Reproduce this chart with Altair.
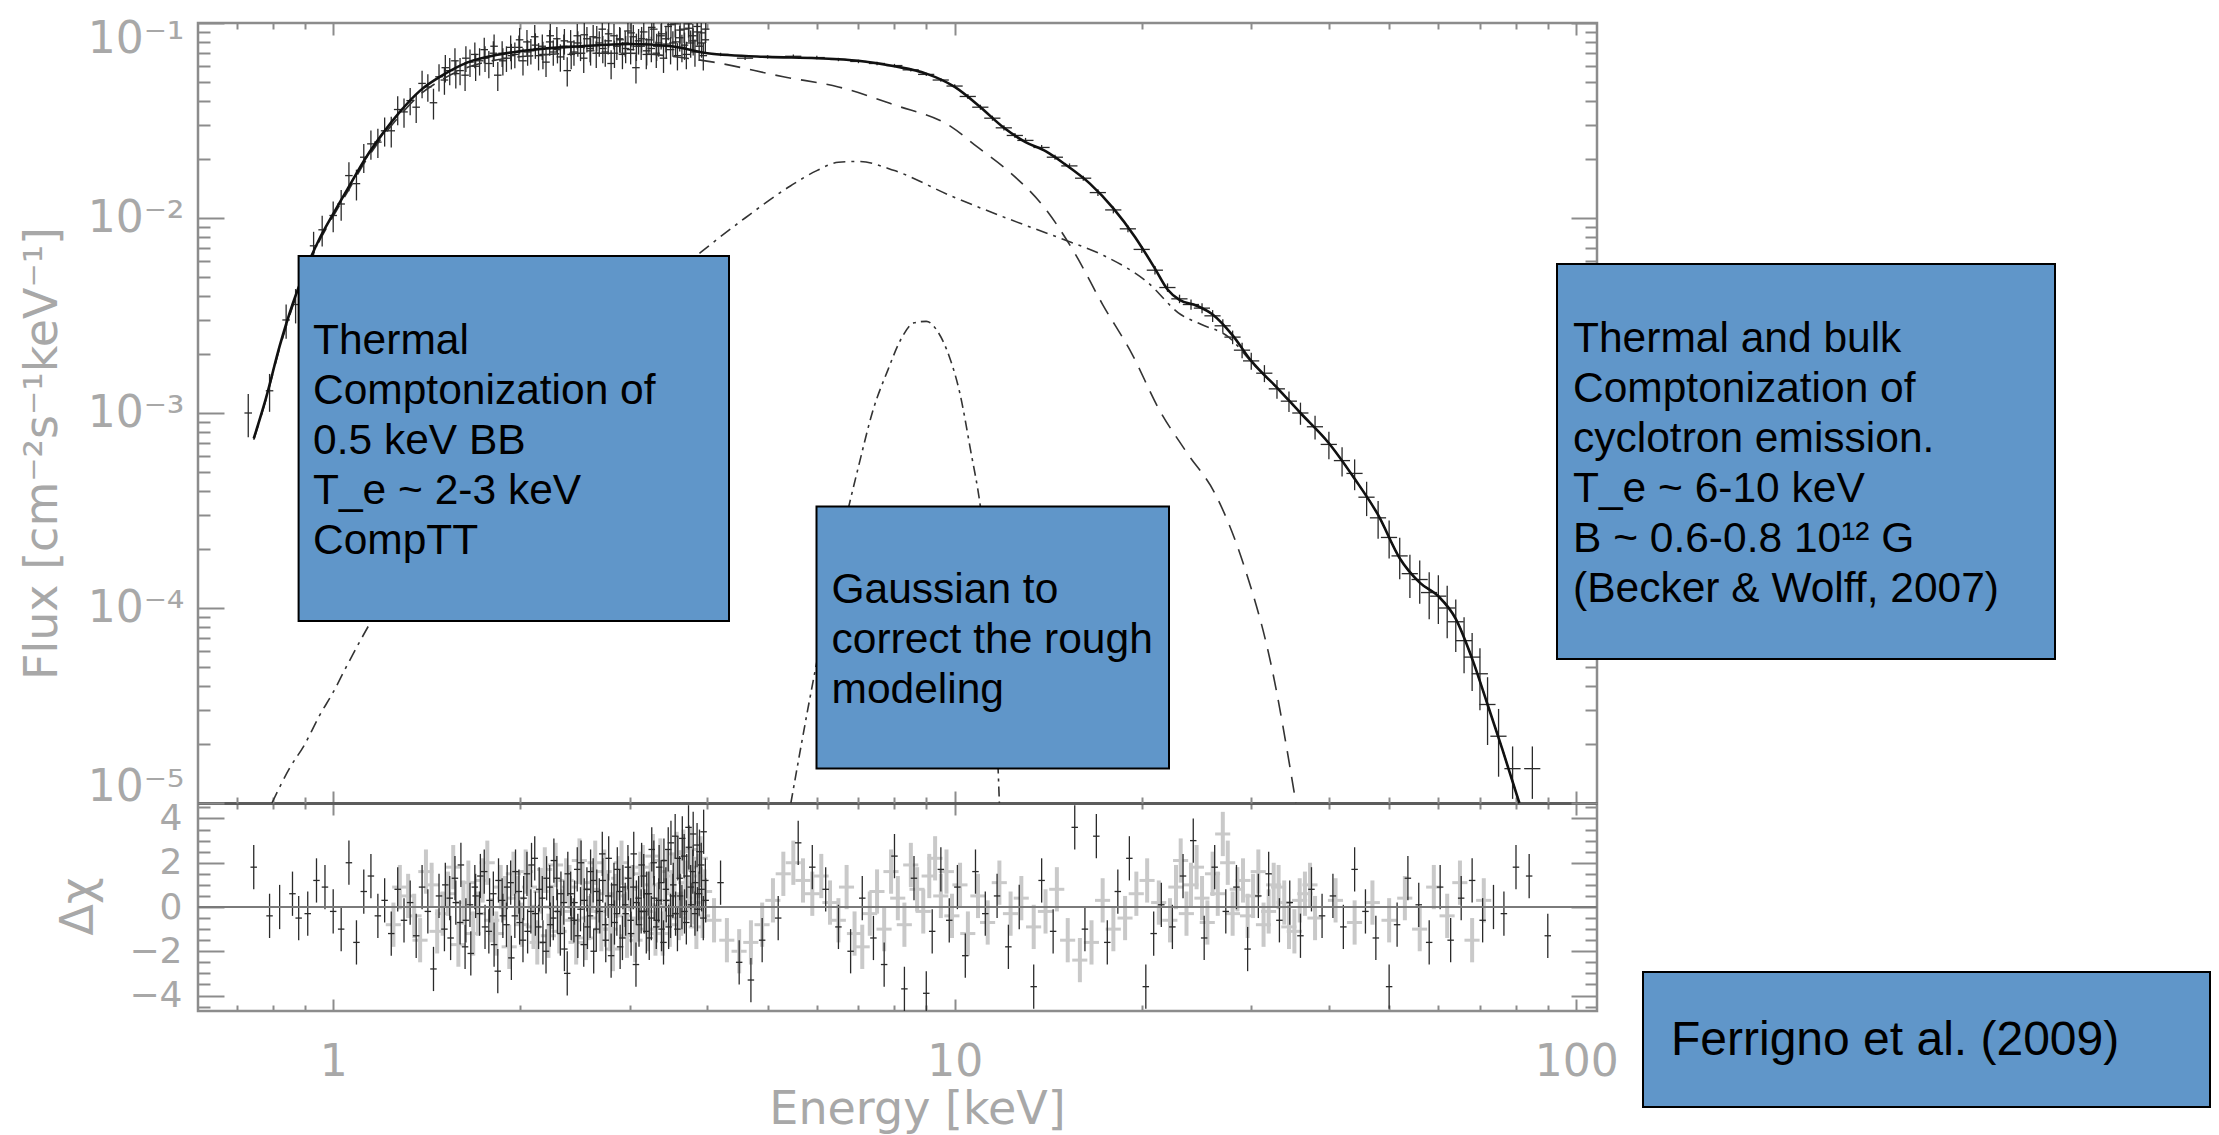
import altair as alt
import pandas as pd

# ---------------- values ----------------
# total model (solid)
TOTAL_E = [0.745, 0.78, 0.82, 0.86, 0.90, 0.95, 1.00, 1.06, 1.13, 1.20, 1.28, 1.38, 1.50, 1.65, 1.85,
           2.1, 2.5, 3.0, 3.5, 4.0, 5.0, 6.0, 7.0, 8.0, 9.0, 10.0, 11.0, 12.0, 13.0, 14.0, 15.0,
           16.5, 18.0, 19.5, 21.0, 22.0, 23.0, 24.5, 26.0, 28.0, 30.0, 33.0, 36.0, 40.0, 44.0, 48.0,
           52.0, 56.0, 60.0, 64.0, 68.0, 72.0, 76.0, 81.0]
TOTAL_F = [7.4e-4, 1.2e-3, 2.2e-3, 3.6e-3, 5.3e-3, 7.8e-3, 1.05e-2, 1.45e-2, 2.05e-2, 2.7e-2, 3.5e-2,
           4.5e-2, 5.4e-2, 6.3e-2, 6.9e-2, 7.3e-2, 7.6e-2, 7.8e-2, 7.6e-2, 7.0e-2, 6.7e-2, 6.6e-2,
           6.4e-2, 6.0e-2, 5.5e-2, 4.7e-2, 3.7e-2, 2.9e-2, 2.45e-2, 2.2e-2, 1.9e-2, 1.5e-2, 1.12e-2,
           8.0e-3, 5.5e-3, 4.3e-3, 3.8e-3, 3.55e-3, 3.2e-3, 2.5e-3, 1.85e-3, 1.35e-3, 1.0e-3, 7.0e-4,
           4.6e-4, 3.0e-4, 1.8e-4, 1.35e-4, 1.15e-4, 8.8e-5, 5.5e-5, 3.2e-5, 1.9e-5, 1.0e-5]
# CompTT component (dashed)
COMPTT_E = [0.745, 0.78, 0.82, 0.86, 0.90, 0.95, 1.00, 1.06, 1.13, 1.20, 1.28, 1.38, 1.50, 1.65, 1.85,
            2.1, 2.5, 3.0, 3.5, 4.09, 5.3, 6.5, 8.0, 9.85, 10.9, 12.1, 14.1, 15.6, 17.3, 19.3, 21.3,
            23.6, 26.3, 29.2, 32.3, 35.4]
COMPTT_F = [7.3e-4, 1.18e-3, 2.15e-3, 3.5e-3, 5.2e-3, 7.6e-3, 1.02e-2, 1.4e-2, 1.98e-2, 2.6e-2, 3.35e-2,
            4.3e-2, 5.15e-2, 5.95e-2, 6.5e-2, 6.8e-2, 7.0e-2, 7.0e-2, 6.75e-2, 6.3e-2, 5.3e-2, 4.7e-2,
            3.8e-2, 2.95e-2, 2.3e-2, 1.78e-2, 1.08e-2, 6.6e-3, 3.6e-3, 2.0e-3, 1.05e-3, 6.3e-4,
            3.8e-4, 1.65e-4, 5.1e-5, 1.0e-5]
# bulk + thermal Comptonization of cyclotron emission (dash-dot)
BW_E = [0.797, 0.85, 0.90, 0.95, 1.00, 1.05, 1.10, 1.15, 1.3, 1.6, 2.0, 2.5, 3.0, 3.5, 3.91, 4.6, 5.44,
        6.0, 6.5, 7.0, 8.0, 9.85, 12.1, 14.9, 17.4, 20.4, 23.1, 24.9, 27.6, 30.0, 33.0, 36.0, 40.0,
        44.0, 48.0, 52.0, 56.0, 60.0, 64.0, 68.0, 72.0, 76.0, 81.0]
BW_F = [1.0e-5, 1.5e-5, 2.0e-5, 2.8e-5, 3.7e-5, 5.0e-5, 6.6e-5, 8.5e-5, 1.5e-4, 3.6e-4, 8.5e-4, 1.8e-3,
        3.2e-3, 5.0e-3, 6.7e-3, 1.0e-2, 1.46e-2, 1.75e-2, 1.93e-2, 1.95e-2, 1.75e-2, 1.3e-2, 1.0e-2,
        7.8e-3, 6.4e-3, 4.7e-3, 3.2e-3, 2.85e-3, 2.45e-3, 1.83e-3, 1.34e-3, 1.0e-3, 7.0e-4, 4.6e-4,
        3.0e-4, 1.8e-4, 1.35e-4, 1.15e-4, 8.8e-5, 5.5e-5, 3.2e-5, 1.9e-5, 1.0e-5]
# Gaussian
GAUSS_E = [5.45, 5.8, 6.2, 6.6, 7.0, 7.4, 7.8, 8.2, 8.6, 9.0, 9.4, 9.8, 10.2, 10.6, 11.0, 11.4, 11.6, 11.8]
GAUSS_F = [1.0e-5, 3.0e-5, 9.0e-5, 2.4e-4, 5.3e-4, 1.05e-3, 1.65e-3, 2.4e-3, 2.9e-3, 2.95e-3, 2.6e-3,
           1.95e-3, 1.25e-3, 6.5e-4, 3.3e-4, 1.2e-4, 4.0e-5, 1.0e-5]

# spectrum points (energy, flux, relative error)
SPEC_LOW = [(0.73, 1.0e-3, 0.25), (0.79, 1.3e-3, 0.22), (0.84, 3.0e-3, 0.2), (0.87, 3.6e-3, 0.2),
            (0.90, 5.1e-3, 0.2), (0.93, 7.2e-3, 0.18), (0.96, 8.7e-3, 0.18), (1.00, 1.03e-2, 0.18),
            (1.03, 1.18e-2, 0.18), (1.06, 1.65e-2, 0.17), (1.09, 1.5e-2, 0.18), (1.12, 2.05e-2, 0.17),
            (1.15, 2.4e-2, 0.17), (1.18, 2.45e-2, 0.17), (1.21, 2.8e-2, 0.17), (1.24, 2.8e-2, 0.18),
            (1.27, 3.6e-2, 0.17), (1.30, 3.5e-2, 0.17), (1.33, 4.0e-2, 0.16), (1.36, 3.7e-2, 0.17),
            (1.39, 4.9e-2, 0.16), (1.42, 4.7e-2, 0.16), (1.45, 3.9e-2, 0.18), (1.48, 5.3e-2, 0.16),
            (1.51, 5.1e-2, 0.16), (1.54, 5.7e-2, 0.16), (1.57, 6.4e-2, 0.16), (1.60, 5.7e-2, 0.16),
            (1.63, 5.4e-2, 0.17), (1.66, 6.3e-2, 0.16), (1.69, 6.9e-2, 0.15), (1.72, 6.4e-2, 0.16),
            (1.75, 7.3e-2, 0.15), (1.78, 6.2e-2, 0.16), (1.81, 7.0e-2, 0.15), (1.84, 5.4e-2, 0.17),
            (1.87, 7.0e-2, 0.15), (1.90, 6.6e-2, 0.15), (1.93, 7.5e-2, 0.15), (1.96, 6.9e-2, 0.15),
            (1.99, 7.5e-2, 0.15), (2.02, 6.4e-2, 0.16), (2.05, 8.0e-2, 0.15), (2.08, 7.2e-2, 0.15),
            (2.11, 8.5e-2, 0.15), (2.14, 6.8e-2, 0.16), (2.17, 7.6e-2, 0.15), (2.20, 6.3e-2, 0.16),
            (2.23, 8.0e-2, 0.15), (2.26, 7.1e-2, 0.15), (2.29, 8.3e-2, 0.15), (2.32, 6.7e-2, 0.16),
            (2.35, 7.6e-2, 0.15), (2.38, 5.7e-2, 0.17), (2.41, 8.0e-2, 0.15), (2.44, 7.1e-2, 0.15),
            (2.47, 8.6e-2, 0.15), (2.50, 7.5e-2, 0.15), (2.53, 6.6e-2, 0.16), (2.56, 8.3e-2, 0.15),
            (2.59, 7.4e-2, 0.15), (2.62, 8.5e-2, 0.15), (2.65, 7.0e-2, 0.16), (2.68, 7.9e-2, 0.15),
            (2.71, 9.3e-2, 0.15), (2.74, 7.1e-2, 0.16), (2.77, 8.1e-2, 0.15), (2.80, 6.2e-2, 0.17),
            (2.83, 8.6e-2, 0.15), (2.86, 7.6e-2, 0.15), (2.89, 8.3e-2, 0.15), (2.92, 6.9e-2, 0.16),
            (2.95, 7.9e-2, 0.15), (2.98, 9.1e-2, 0.15), (3.01, 7.3e-2, 0.16), (3.04, 8.5e-2, 0.15),
            (3.07, 5.9e-2, 0.17), (3.10, 8.1e-2, 0.15), (3.13, 7.6e-2, 0.15), (3.16, 9.0e-2, 0.15),
            (3.19, 6.9e-2, 0.16), (3.22, 8.2e-2, 0.15), (3.25, 7.4e-2, 0.15), (3.28, 9.3e-2, 0.15),
            (3.31, 7.0e-2, 0.16), (3.34, 7.9e-2, 0.15), (3.37, 8.6e-2, 0.15), (3.40, 6.6e-2, 0.16),
            (3.43, 8.3e-2, 0.15), (3.46, 9.6e-2, 0.15), (3.49, 7.3e-2, 0.16), (3.52, 7.9e-2, 0.15),
            (3.55, 9.9e-2, 0.15), (3.58, 6.8e-2, 0.16), (3.61, 8.4e-2, 0.15), (3.64, 7.5e-2, 0.16),
            (3.67, 9.3e-2, 0.15), (3.70, 6.9e-2, 0.16), (3.73, 9.9e-2, 0.15), (3.76, 7.9e-2, 0.16),
            (3.79, 8.6e-2, 0.15), (3.82, 7.1e-2, 0.16), (3.85, 9.6e-2, 0.15), (3.88, 7.6e-2, 0.16),
            (3.91, 8.9e-2, 0.15), (3.94, 6.8e-2, 0.16), (3.97, 8.2e-2, 0.15)]
SPEC_LOW_B = [(1.515, 5.9e-2, 0.16), (1.575, 5.5e-2, 0.16), (1.635, 6.6e-2, 0.15), (1.695, 6.0e-2, 0.16),
              (1.755, 6.6e-2, 0.15), (1.815, 7.6e-2, 0.15), (1.875, 6.4e-2, 0.16), (1.935, 6.8e-2, 0.15),
              (1.995, 8.2e-2, 0.15), (2.055, 7.1e-2, 0.15), (2.115, 7.7e-2, 0.15), (2.175, 6.9e-2, 0.16),
              (2.235, 8.6e-2, 0.15), (2.295, 7.3e-2, 0.15), (2.355, 8.1e-2, 0.15), (2.415, 6.9e-2, 0.16),
              (2.475, 7.9e-2, 0.15), (2.535, 8.7e-2, 0.15), (2.595, 7.2e-2, 0.16), (2.655, 8.4e-2, 0.15),
              (2.715, 7.4e-2, 0.16), (2.775, 8.8e-2, 0.15), (2.835, 7.0e-2, 0.16), (2.895, 8.2e-2, 0.15),
              (2.955, 7.4e-2, 0.16), (3.015, 8.9e-2, 0.15), (3.075, 7.6e-2, 0.16), (3.135, 8.3e-2, 0.15),
              (3.195, 7.2e-2, 0.16), (3.255, 9.5e-2, 0.15), (3.315, 7.6e-2, 0.16), (3.375, 8.8e-2, 0.15),
              (3.435, 7.8e-2, 0.16), (3.495, 9.8e-2, 0.15), (3.555, 8.0e-2, 0.16), (3.615, 9.2e-2, 0.15),
              (3.675, 7.7e-2, 0.16), (3.735, 9.4e-2, 0.15), (3.795, 8.1e-2, 0.16), (3.855, 9.0e-2, 0.15),
              (3.915, 7.9e-2, 0.16), (3.975, 9.3e-2, 0.15)]
SPEC_HIGH = [(4.2, 6.9e-2, 0.02), (4.6, 6.6e-2, 0.02), (5.0, 6.7e-2, 0.02), (5.5, 6.75e-2, 0.02),
             (6.0, 6.65e-2, 0.02), (6.5, 6.5e-2, 0.02), (7.0, 6.35e-2, 0.02), (7.5, 6.2e-2, 0.02),
             (8.0, 6.05e-2, 0.02), (8.5, 5.75e-2, 0.02), (9.0, 5.45e-2, 0.02), (9.5, 5.1e-2, 0.02),
             (10.0, 4.75e-2, 0.02), (10.5, 4.2e-2, 0.03), (11.0, 3.7e-2, 0.03), (11.5, 3.25e-2, 0.03),
             (12.0, 2.9e-2, 0.03), (12.5, 2.65e-2, 0.03), (13.0, 2.5e-2, 0.03), (13.8, 2.3e-2, 0.03),
             (14.5, 2.05e-2, 0.03), (15.3, 1.85e-2, 0.03), (16.1, 1.6e-2, 0.03), (17.0, 1.35e-2, 0.04),
             (18.0, 1.1e-2, 0.04), (19.0, 8.8e-3, 0.04), (20.0, 6.9e-3, 0.04), (21.0, 5.4e-3, 0.05),
             (22.0, 4.4e-3, 0.05), (23.0, 3.85e-3, 0.05), (24.0, 3.6e-3, 0.06), (25.0, 3.45e-3, 0.06),
             (26.0, 3.15e-3, 0.07), (27.0, 2.8e-3, 0.08), (28.0, 2.45e-3, 0.08), (29.0, 2.1e-3, 0.09),
             (30.0, 1.85e-3, 0.1), (31.5, 1.6e-3, 0.1), (33.0, 1.33e-3, 0.11), (34.5, 1.15e-3, 0.12),
             (36.0, 1.0e-3, 0.13), (38.0, 8.5e-4, 0.14), (40.0, 6.9e-4, 0.16), (42.0, 5.7e-4, 0.17),
             (44.0, 4.9e-4, 0.18), (46.0, 3.7e-4, 0.2), (48.0, 2.9e-4, 0.22), (50.0, 2.3e-4, 0.22),
             (52.0, 1.85e-4, 0.24), (54.0, 1.5e-4, 0.25), (56.0, 1.4e-4, 0.25), (58.0, 1.2e-4, 0.27),
             (60.0, 1.15e-4, 0.28), (62.0, 1.0e-4, 0.3), (64.0, 8.5e-5, 0.3), (66.0, 6.8e-5, 0.32),
             (68.0, 5.6e-5, 0.33), (70.0, 4.6e-5, 0.35), (72.0, 3.2e-5, 0.38), (75.0, 2.2e-5, 0.38),
             (79.0, 1.5e-5, 0.3), (85.0, 1.5e-5, 0.3)]

# residuals (energy, delta chi); error bars are +/-1 by definition
RES_BLACK = [(0.745, 1.8), (0.79, -0.4), (0.82, 0.0), (0.86, 0.6), (0.88, -0.5), (0.91, -0.3), (0.94, 1.2),
             (0.97, 0.9), (1.00, -0.2), (1.03, -1.0), (1.06, 2.0), (1.09, -1.6), (1.12, 0.7), (1.15, 1.4),
             (1.18, -0.4), (1.21, 0.3), (1.24, -1.2), (1.27, 0.8), (1.30, -0.6), (1.33, 0.2), (1.36, -1.3),
             (1.39, 0.9), (1.42, -0.2), (1.45, -2.8), (1.48, 0.5), (1.51, -1.0), (1.54, 0.4), (1.57, 1.3),
             (1.60, -0.7), (1.63, -1.8), (1.66, 0.1), (1.69, 0.9), (1.72, -0.3), (1.75, 1.6), (1.78, -1.1),
             (1.81, 0.6), (1.84, -2.9), (1.87, 0.3), (1.90, -0.8), (1.93, 1.1), (1.96, -0.4), (1.99, 0.7),
             (2.02, -1.5), (2.05, 1.5), (2.08, -0.2), (2.11, 2.2), (2.14, -0.9), (2.17, 0.4), (2.20, -2.0),
             (2.23, 0.9), (2.26, -0.5), (2.29, 1.3), (2.32, -1.2), (2.35, 0.2), (2.38, -3.0), (2.41, 0.6),
             (2.44, -0.6), (2.47, 1.7), (2.50, -0.1), (2.53, -1.7), (2.56, 0.8), (2.59, -0.4), (2.62, 1.2),
             (2.65, -1.0), (2.68, 0.3), (2.71, 2.4), (2.74, -0.8), (2.77, 0.5), (2.80, -2.2), (2.83, 1.0),
             (2.86, -0.3), (2.89, 0.7), (2.92, -1.4), (2.95, 0.1), (2.98, 1.8), (3.01, -0.6), (3.04, 0.9),
             (3.07, -2.6), (3.10, 0.4), (3.13, -0.2), (3.16, 1.4), (3.19, -1.1), (3.22, 0.6), (3.25, -0.5),
             (3.28, 2.0), (3.31, -0.9), (3.34, 0.3), (3.37, 1.1), (3.40, -1.6), (3.43, 0.8), (3.46, 2.6),
             (3.49, -0.4), (3.52, 0.5), (3.55, 3.2), (3.58, -1.0), (3.61, 1.3), (3.64, 0.0), (3.67, 2.3),
             (3.70, -0.7), (3.73, 3.6), (3.76, 0.9), (3.79, 1.6), (3.82, -0.3), (3.85, 2.8), (3.88, 0.6),
             (3.91, 1.9), (3.94, -0.5), (3.97, 1.2),
             (4.2, 1.1), (4.5, -2.5), (4.7, -3.3), (4.9, -1.5), (5.2, -0.5), (5.6, 2.9), (5.9, 1.8),
             (6.2, 0.8), (6.5, -0.9), (6.8, -2.0), (7.1, 0.4), (7.4, -1.4), (7.7, -2.6), (8.0, 2.3),
             (8.3, -3.7), (8.6, 1.3), (9.0, -3.9), (9.2, -1.1), (9.5, 1.7), (9.8, -0.6), (10.1, 0.9),
             (10.4, -2.2), (10.8, 1.6), (11.2, -0.3), (11.7, 0.5), (12.2, -1.8), (12.7, 0.0), (13.4, -3.6),
             (13.8, 1.2), (14.4, -1.1), (15.6, 3.6), (16.2, -1.0), (16.9, 3.2), (17.6, -1.6), (18.3, 0.7),
             (19.1, 2.2), (20.3, -3.6), (20.9, -1.2), (21.5, 0.1), (22.4, -0.9), (23.3, 1.4), (24.2, 3.0),
             (25.2, -1.4), (26.2, 1.8), (27.3, -0.2), (28.4, 0.9), (29.6, -1.9), (30.8, 0.5), (32.0, 1.5),
             (33.3, -0.6), (34.6, 0.2), (36.0, -1.3), (37.5, 0.8), (39.0, -0.4), (40.6, 0.5), (42.2, -0.9),
             (44.0, 1.7), (45.8, -0.2), (47.6, -1.4), (50.0, -3.6), (51.5, -0.8), (53.6, 1.3), (55.8, 0.1),
             (58.0, -1.6), (60.4, 0.9), (62.8, -1.5), (65.3, 0.4), (68.0, 1.2), (70.7, -0.6), (73.6, 0.0),
             (76.5, -0.3), (80.0, 1.8), (84.0, 1.4), (90.0, -1.3)]
RES_BLACK_B = [(1.515, 1.0), (1.545, -1.4), (1.575, 0.2), (1.605, 1.9), (1.635, -0.6), (1.665, -2.1),
               (1.695, 0.5), (1.725, 1.4), (1.755, -0.9), (1.785, 0.3), (1.815, -1.7), (1.845, 1.2),
               (1.875, -0.4), (1.905, 0.9), (1.935, -2.3), (1.965, 1.6), (1.995, -0.7), (2.025, 0.4),
               (2.055, -1.1), (2.085, 1.9), (2.115, -0.3), (2.145, 0.8), (2.175, -1.6), (2.205, 1.3),
               (2.235, -0.8), (2.265, 2.1), (2.295, -0.2), (2.325, 0.6), (2.355, -1.9), (2.385, 1.5),
               (2.415, -0.5), (2.445, 0.2), (2.475, -1.3), (2.505, 2.0), (2.535, 0.3), (2.565, -0.9),
               (2.595, 1.6), (2.625, -2.0), (2.655, 0.7), (2.685, -0.2), (2.715, 1.2), (2.745, -1.5),
               (2.775, 2.2), (2.805, 0.1), (2.835, -0.7), (2.865, 1.7), (2.895, -1.8), (2.925, 0.9),
               (2.955, -0.3), (2.985, 1.3), (3.015, -1.2), (3.045, 2.4), (3.075, 0.2), (3.105, -0.8),
               (3.135, 1.9), (3.165, -0.2), (3.195, 0.6), (3.225, -1.4), (3.255, 2.6), (3.285, 0.4),
               (3.315, -0.6), (3.345, 1.8), (3.375, -1.0), (3.405, 2.1), (3.435, 0.3), (3.465, -0.9),
               (3.495, 2.9), (3.525, 1.0), (3.555, -0.3), (3.585, 2.2), (3.615, 0.5), (3.645, 3.1),
               (3.675, -0.2), (3.705, 1.4), (3.735, 2.7), (3.765, 0.1), (3.795, 3.3), (3.825, 1.1),
               (3.855, -0.1), (3.885, 2.5), (3.915, 0.8), (3.945, 3.4), (3.975, 0.3)]
RES_GRAY = [(1.25, -0.8), (1.32, 0.5), (1.38, -1.5), (1.44, 1.0), (1.50, -0.3), (1.56, 1.8), (1.62, 0.2),
            (1.68, -1.2), (1.74, 1.2), (1.80, -0.6), (1.86, 0.9), (1.92, -1.8), (1.98, 0.4), (2.04, 1.6),
            (2.10, -0.9), (2.16, 0.7), (2.22, -1.3), (2.28, 1.9), (2.34, -0.2), (2.40, 0.9), (2.46, -1.6),
            (2.52, 1.1), (2.58, -0.5), (2.64, 2.0), (2.70, -1.0), (2.76, 0.6), (2.82, -1.9), (2.88, 1.3),
            (2.94, -0.4), (3.00, 0.8), (3.06, -1.5), (3.12, 1.5), (3.18, -0.2), (3.24, 1.0), (3.30, -1.2),
            (3.36, 2.1), (3.42, 0.3), (3.48, -0.8), (3.54, 1.4), (3.60, -0.5), (3.66, 2.5), (3.72, 0.4),
            (3.78, 1.8), (3.84, -0.9), (3.90, 2.2), (3.96, 0.7),
            (4.1, -0.6), (4.3, -1.5), (4.5, -2.0), (4.7, -1.6), (4.9, -0.8), (5.1, 0.3), (5.3, 1.5),
            (5.5, 2.0), (5.7, 1.2), (5.9, 0.6), (6.1, 1.4), (6.3, 0.2), (6.5, -0.6), (6.7, 0.9),
            (6.9, -1.2), (7.1, -1.8), (7.3, -0.3), (7.5, 0.7), (7.7, -1.0), (7.9, 1.6), (8.1, 0.4),
            (8.3, -0.8), (8.5, 1.9), (8.7, 0.8), (8.9, -0.2), (9.1, 1.4), (9.3, 2.2), (9.5, 0.5),
            (9.7, 1.6), (9.9, -0.4), (10.2, 1.0), (10.5, -1.2), (10.9, 0.5), (11.3, -0.7), (11.8, 1.1),
            (12.3, -0.3), (12.8, 0.4), (13.4, -0.9), (14.0, -0.2), (14.6, 0.8), (15.2, -1.5), (15.9, -2.4),
            (16.6, -1.6), (17.3, 0.3), (18.0, -1.0), (18.8, -0.5), (19.6, 0.6), (20.4, 1.2), (21.3, 0.2),
            (22.2, -0.6), (23.1, 2.1), (24.0, 1.0), (25.0, 0.4), (26.0, 1.5), (27.0, 3.3), (28.0, -0.3),
            (29.1, 1.2), (30.2, 0.5), (31.4, -0.8), (32.6, 1.0), (33.9, 0.2), (35.2, -1.1), (36.6, 0.6),
            (38.0, -0.5), (41.0, 0.3), (44.0, -0.7), (47.0, 0.2), (50.0, -0.6), (53.0, 0.4), (56.0, -1.0),
            (59.0, 0.9), (62.0, -0.4), (65.0, 1.1), (68.0, -1.5), (71.0, 0.3)]
RES_GRAY_B = [(1.28, 0.9), (1.35, -0.4), (1.41, 1.6), (1.47, -1.1), (1.53, 0.6), (1.59, -1.7), (1.65, 1.1),
              (1.71, -0.3), (1.77, 2.0), (1.83, -1.2), (1.89, 0.4), (1.95, 1.5), (2.01, -0.8), (2.07, 0.9),
              (2.13, -1.6), (2.19, 1.7), (2.25, 0.0), (2.31, -1.1), (2.37, 1.2), (2.43, -0.6), (2.49, 2.1),
              (2.55, -1.4), (2.61, 0.8), (2.67, -0.2), (2.73, 1.6), (2.79, -1.0), (2.85, 0.5), (2.91, 2.0),
              (2.97, -1.3), (3.03, 0.9), (3.09, -0.5), (3.15, 1.8), (3.21, -1.0), (3.27, 2.3), (3.33, 0.1),
              (3.39, -1.2), (3.45, 1.6), (3.51, 0.6), (3.57, 2.4), (3.63, -0.3), (3.69, 1.1), (3.75, 2.6),
              (3.81, 0.2), (3.87, 1.4), (3.93, -0.4),
              (22.7, 0.9), (23.6, -0.3), (24.5, 1.8), (25.5, -0.7), (26.5, 0.6), (27.5, 2.0), (28.5, 0.8),
              (29.6, -0.4), (30.8, 1.6), (32.0, -0.2), (33.2, 0.9), (34.5, -0.9), (35.9, 0.3), (37.3, 1.0)]
RES_ERR = 1.0

# axis ticks and labels
X_MAJOR = [1, 10, 100]
X_LABELS = ["1", "10", "100"]
X_MINOR = [0.7, 0.8, 0.9, 2, 3, 4, 5, 6, 7, 8, 9, 20, 30, 40, 50, 60, 70, 80, 90]
F_MAJOR = [1e-5, 1e-4, 1e-3, 1e-2, 1e-1]
F_LABELS = ["10⁻⁵", "10⁻⁴", "10⁻³", "10⁻²", "10⁻¹"]
F_MINOR = [m * d for d in [1e-5, 1e-4, 1e-3, 1e-2] for m in range(2, 10)]
R_MAJOR = [-4, -2, 0, 2, 4]
R_LABELS = ["−4", "−2", "0", "2", "4"]
R_MINOR = [-4.5, -3.5, -3, -2.5, -1.5, -1, -0.5, 0.5, 1, 1.5, 2.5, 3, 3.5, 4.5]

BOX_TEXTS = [
    "Thermal\nComptonization of\n0.5 keV BB\nT_e ~ 2-3 keV\nCompTT",
    "Gaussian to\ncorrect the rough\nmodeling",
    "Thermal and bulk\nComptonization of\ncyclotron emission.\nT_e ~ 6-10 keV\nB ~ 0.6-0.8 10¹² G\n(Becker & Wolff, 2007)",
    "Ferrigno et al. (2009)",
]

# ---------------- layout / style ----------------
W, H, HT = 1399, 988, 780
HB = H - HT
LABEL_C = "#a8a8a8"
TICK_C = "#8c8c8c"
BOX_FILL = "#6096c9"

XS = alt.Scale(type="log", domain=[0.606, 108], nice=False)
YT = alt.Scale(type="log", domain=[1e-5, 0.1], range=[HT, 0], nice=False)
YB = alt.Scale(type="linear", domain=[-4.7, 4.7], range=[H, HT], nice=False, zero=False)


def label_expr(values, labels):
    expr = "'" + labels[-1] + "'"
    for v, lab in zip(values[-2::-1], labels[-2::-1]):
        expr = f"abs(datum.value - ({v!r})) < {abs(v) * 1e-3 + 1e-12!r} ? '{lab}' : " + expr
    return expr


def tick_axis(orient, offset, values, size, **kw):
    opts = dict(orient=orient, offset=offset, values=values, labels=False, ticks=True,
                tickSize=size, tickColor=TICK_C, tickWidth=2, domain=False, grid=False, title=None)
    opts.update(kw)
    return alt.Axis(**opts)


AX_X_LABELS = alt.Axis(orient="bottom", values=X_MAJOR, labelExpr=label_expr(X_MAJOR, X_LABELS),
                       ticks=False, tickSize=0, domain=False, labelPadding=29,
                       title="Energy [keV]", titleY=112, titleX=719, titleAlign="center",
                       titleBaseline="alphabetic")
AX_F_LABELS = alt.Axis(orient="left", values=F_MAJOR, labelExpr=label_expr(F_MAJOR, F_LABELS),
                       ticks=False, tickSize=0, domain=False, labelPadding=14,
                       labelFlush=True, labelFlushOffset=6,
                       title="Flux [cm⁻²s⁻¹keV⁻¹]", titleAngle=270, titleX=-156, titleY=430,
                       titleAlign="center", titleBaseline="middle")
AX_R_LABELS = alt.Axis(orient="left", values=R_MAJOR, labelExpr=label_expr(R_MAJOR, R_LABELS),
                       ticks=False, tickSize=0, domain=False, labelPadding=16, labelFontSize=36,
                       title="Δχ", titleAngle=270, titleX=-120, titleY=883,
                       titleAlign="center", titleBaseline="middle")

# ---------------- tables ----------------
spec = pd.DataFrame(SPEC_LOW + SPEC_LOW_B + SPEC_HIGH, columns=["E", "F", "err"])
spec["F_lo"] = spec["F"] * (1 - spec["err"])
spec["F_hi"] = spec["F"] * (1 + spec["err"])
spec["xw"] = [0.014] * (len(SPEC_LOW) + len(SPEC_LOW_B)) + [0.03] * len(SPEC_HIGH)
spec["E_lo"] = spec["E"] * (1 - spec["xw"])
spec["E_hi"] = spec["E"] * (1 + spec["xw"])


def res_table(rows, xw):
    df = pd.DataFrame(rows, columns=["E", "r"])
    df["r_lo"] = df["r"] - RES_ERR
    df["r_hi"] = df["r"] + RES_ERR
    df["E_lo"] = df["E"] * (1 - xw)
    df["E_hi"] = df["E"] * (1 + xw)
    return df


res_b = res_table(RES_BLACK + RES_BLACK_B, 0.012)
res_g = res_table(RES_GRAY + RES_GRAY_B, 0.028)
one = pd.DataFrame({"k": [0]})
zero = pd.DataFrame({"zero": [0.0]})

# ---------------- layers ----------------
GRAY = "#c9c9c9"
DARK = "#2a2a2a"

lay = []
# residuals, grey instrument
lay.append(alt.Chart(res_g).mark_rule(color=GRAY, strokeWidth=4, clip=True).encode(
    x=alt.X("E:Q", scale=XS, axis=AX_X_LABELS),
    y=alt.Y("r_lo:Q", scale=YB, axis=AX_R_LABELS), y2="r_hi:Q"))
lay.append(alt.Chart(res_g).mark_rule(color=GRAY, strokeWidth=3, clip=True).encode(
    x=alt.X("E_lo:Q", scale=XS, axis=tick_axis("top", -H, X_MAJOR, 12)), x2="E_hi:Q",
    y=alt.Y("r:Q", scale=YB, axis=tick_axis("right", -W, R_MAJOR, 26))))
# residuals, black instrument
lay.append(alt.Chart(res_b).mark_rule(color=DARK, strokeWidth=1.3, clip=True).encode(
    x=alt.X("E:Q", scale=XS, axis=tick_axis("top", -H, X_MINOR, 6)),
    y=alt.Y("r_lo:Q", scale=YB, axis=tick_axis("right", -W, R_MINOR, 12)), y2="r_hi:Q"))
lay.append(alt.Chart(res_b).mark_rule(color=DARK, strokeWidth=1.3, clip=True).encode(
    x=alt.X("E_lo:Q", scale=XS, axis=tick_axis("bottom", -HB, X_MAJOR, 12)), x2="E_hi:Q",
    y=alt.Y("r:Q", scale=YB, axis=tick_axis("left", -W, R_MAJOR, 26))))
# zero line
lay.append(alt.Chart(zero).mark_rule(color="#7a7a7a", strokeWidth=2).encode(
    y=alt.Y("zero:Q", scale=YB, axis=tick_axis("left", -W, R_MINOR, 12))))
# spectrum data
lay.append(alt.Chart(spec).mark_rule(color=DARK, strokeWidth=1.3, clip=True).encode(
    x=alt.X("E:Q", scale=XS, axis=tick_axis("bottom", -HB, X_MINOR, 6)),
    y=alt.Y("F_lo:Q", scale=YT, axis=AX_F_LABELS), y2="F_hi:Q"))
lay.append(alt.Chart(spec).mark_rule(color=DARK, strokeWidth=1.3, clip=True).encode(
    x=alt.X("E_lo:Q", scale=XS, axis=tick_axis("top", -HT, X_MAJOR, 12, domain=True,
                                                domainColor="#5c5c5c", domainWidth=3)),
    x2="E_hi:Q",
    y=alt.Y("F:Q", scale=YT, axis=None)))


def model_layer(E, F, width, xaxis, yaxis, dash=None, color="#333333"):
    df = pd.DataFrame({"E": E, "F": F})
    kw = dict(color=color, strokeWidth=width, interpolate="monotone", clip=True)
    if dash:
        kw["strokeDash"] = dash
    return alt.Chart(df).mark_line(**kw).encode(
        x=alt.X("E:Q", scale=XS, axis=xaxis),
        y=alt.Y("F:Q", scale=YT, axis=yaxis))


lay.append(model_layer(COMPTT_E, COMPTT_F, 1.6, tick_axis("top", -HT, X_MINOR, 6),
                       tick_axis("right", -W, F_MAJOR, 26), dash=[16, 10]))
lay.append(model_layer(BW_E, BW_F, 1.6, tick_axis("bottom", -H, X_MAJOR, 12),
                       tick_axis("right", -W, F_MINOR, 12), dash=[12, 6, 3, 6]))
lay.append(model_layer(GAUSS_E, GAUSS_F, 1.6, tick_axis("bottom", -H, X_MINOR, 6),
                       tick_axis("left", -W, F_MAJOR, 26), dash=[10, 5, 3, 5]))
lay.append(model_layer(TOTAL_E, TOTAL_F, 2.6, None,
                       tick_axis("left", -W, F_MINOR, 12), color="#111111"))

# annotation boxes (pixel positions inside the plot frame)
BOXES = [
    dict(x=100.6, x2=531, y=233, y2=598, tx=115, ty=330.5, size=42.5),
    dict(x=618.5, x2=971, y=483.6, y2=745.5, tx=633.5, ty=579.5, size=42.5),
    dict(x=1359, x2=1857, y=241, y2=636, tx=1375, ty=328.5, size=42.5),
    dict(x=1445, x2=2012, y=949, y2=1084, tx=1473, ty=1032, size=48),
]
for b, txt in zip(BOXES, BOX_TEXTS):
    lay.append(alt.Chart(one).mark_rect(fill=BOX_FILL, stroke="black", strokeWidth=2).encode(
        x=alt.value(b["x"]), x2=alt.value(b["x2"]), y=alt.value(b["y"]), y2=alt.value(b["y2"])))
    lay.append(alt.Chart(one).mark_text(align="left", baseline="alphabetic", font="Liberation Sans",
                                        fontSize=b["size"], lineHeight=50, lineBreak="\n",
                                        color="black").encode(
        x=alt.value(b["tx"]), y=alt.value(b["ty"]), text=alt.value(txt)))

chart = alt.LayerChart(layer=lay).resolve_scale(
    x="independent", y="independent"
).properties(
    width=W, height=H,
    padding={"left": 198, "top": 23, "right": 622, "bottom": 124},
    autosize=alt.AutoSizeParams(type="none"),
    background="white",
).configure_view(
    stroke="#8c8c8c", strokeWidth=2.5
).configure_axis(
    labelFont="DejaVu Sans", labelFontSize=44, labelColor=LABEL_C, labelFlush=False,
    labelOverlap=False, titleFont="DejaVu Sans", titleFontSize=46, titleFontWeight="normal",
    titleColor=LABEL_C, grid=False
)

chart.save("out.html", embed_options={"renderer": "svg", "actions": False})
